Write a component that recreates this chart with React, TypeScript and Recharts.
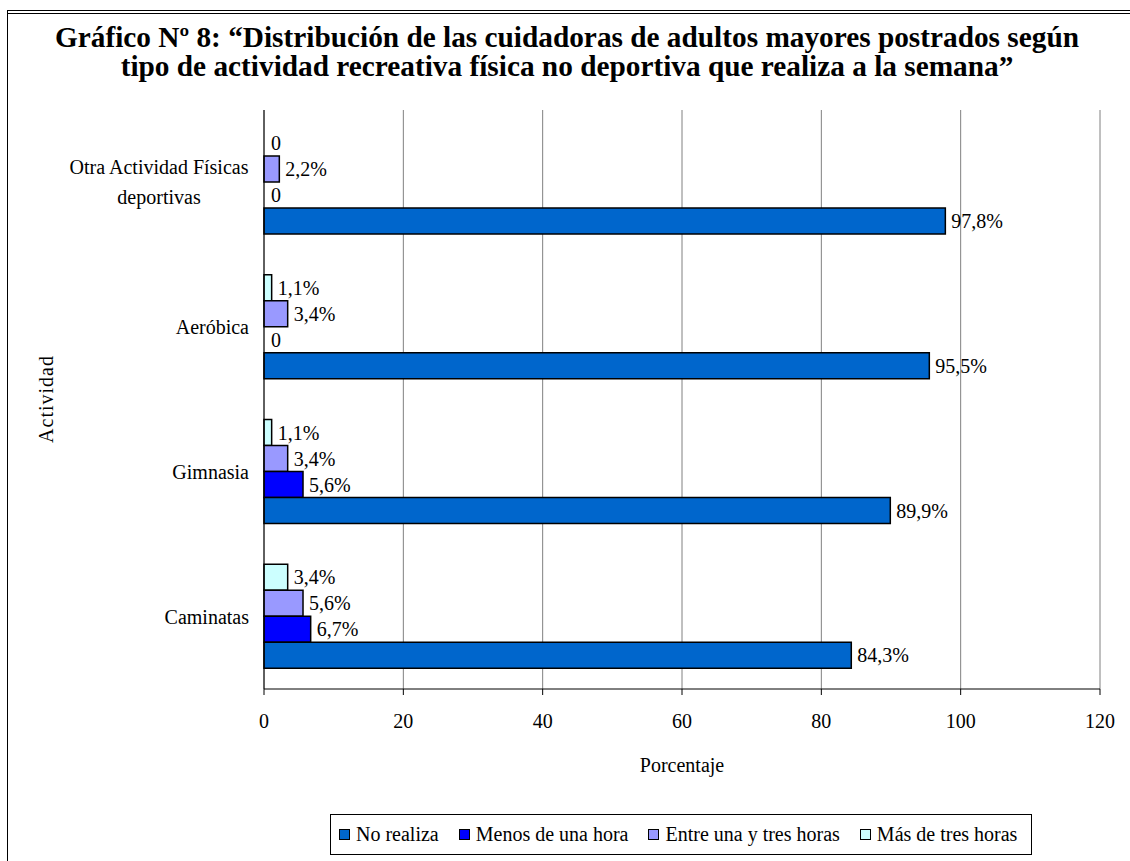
import { Bar, BarChart, CartesianGrid, LabelList, Rectangle, XAxis, YAxis } from "recharts";

const FONT = '"Liberation Serif", "Times New Roman", serif';

const categories = ["Otra Actividad Físicas\ndeportivas", "Aeróbica", "Gimnasia", "Caminatas"];
const noRealiza = [97.8, 95.5, 89.9, 84.3];
const menosDeUnaHora = [0, 0, 5.6, 6.7];
const entreUnaYTresHoras = [2.2, 3.4, 3.4, 5.6];
const masDeTresHoras = [0, 1.1, 1.1, 3.4];
const xTicks = [0, 20, 40, 60, 80, 100, 120];
const bandEdges = [0, 1, 2, 3, 4];

// drawn top to bottom inside each category
const series = [
  { key: "mas", name: "Más de tres horas", values: masDeTresHoras, color: "#CCFFFF" },
  { key: "entre", name: "Entre una y tres horas", values: entreUnaYTresHoras, color: "#9999FF" },
  { key: "menos", name: "Menos de una hora", values: menosDeUnaHora, color: "#0000FF" },
  { key: "no", name: "No realiza", values: noRealiza, color: "#0066CC" },
];
const legendOrder = ["no", "menos", "entre", "mas"];

const data = categories.map((name, i) => {
  const row: Record<string, string | number> = { name };
  series.forEach((s) => (row[s.key] = s.values[i]));
  return row;
});

const fmt = (v: any) => (Number(v) === 0 ? "0" : Number(v).toFixed(1).replace(".", ",") + "%");

let ctx: CanvasRenderingContext2D | null = null;
function textWidth(s: string) {
  if (!ctx && typeof document !== "undefined") ctx = document.createElement("canvas").getContext("2d");
  if (!ctx) return s.length * 9;
  ctx.font = `20px ${FONT}`;
  return ctx.measureText(s).width;
}

function CategoryTick({ x, y, payload }: any) {
  const lines = String(payload.value).split("\n");
  const widest = Math.max(...lines.map(textWidth));
  const cx = x - widest / 2;
  return (
    <g>
      {lines.map((line, i) => (
        <text
          key={i}
          x={cx}
          y={y + (i - (lines.length - 1) / 2) * 30}
          dy="0.35em"
          textAnchor="middle"
          fontSize={20}
          fontFamily={FONT}
          fill="#000"
        >
          {line}
        </text>
      ))}
    </g>
  );
}

// zero values keep a 1px slot so their "0" label is still drawn, but no box
const barShape = (key: string, color: string) => (p: any) =>
  p.payload?.[key] === 0 ? <g /> : (
    <Rectangle x={p.x} y={p.y} width={p.width} height={p.height} fill={color} stroke="#000" strokeWidth={1.5} />
  );

export default function App() {
  return (
    <div style={{ position: "absolute", left: 0, top: 0, width: 1130, height: 861, background: "#fff", fontFamily: FONT, color: "#000" }}>
      <div style={{ position: "absolute", left: 7, top: 10, width: 1123, height: 1, background: "#000" }} />
      <div style={{ position: "absolute", left: 7, top: 13, width: 1123, height: 1, background: "#000" }} />
      <div style={{ position: "absolute", left: 7, top: 10, width: 1, height: 851, background: "#000" }} />

      <div style={{ position: "absolute", left: 8, top: 23, width: 1118, textAlign: "center", fontWeight: "bold", fontSize: 29.3, lineHeight: "29px" }}>
        Gráfico Nº 8: “Distribución de las cuidadoras de adultos mayores postrados según
        <br />
        tipo de actividad recreativa física no deportiva que realiza a la semana”
      </div>

      <div style={{ position: "absolute", left: 0, top: 0 }}>
        <BarChart
          width={1130}
          height={861}
          data={data}
          layout="vertical"
          margin={{ top: 110, right: 30, bottom: 132, left: 64 }}
          barSize={26}
          barGap={0}
        >
          <CartesianGrid yAxisId="cat" horizontal={false} stroke="#808080" />
          <XAxis
            type="number"
            domain={[0, 120]}
            ticks={xTicks}
            height={40}
            tick={{ fontSize: 20, fill: "#000", fontFamily: FONT }}
            tickMargin={19}
            axisLine={{ stroke: "#000" }}
            tickLine={{ stroke: "#000" }}
          />
          <XAxis xAxisId="top" orientation="top" type="number" domain={[0, 120]} height={0} tick={false} tickLine={false} axisLine={{ stroke: "#808080" }} />
          <YAxis
            yAxisId="edge"
            type="number"
            domain={[0, 4]}
            ticks={bandEdges}
            width={0}
            tick={false}
            axisLine={false}
            tickLine={{ stroke: "#000" }}
          />
          <YAxis
            yAxisId="cat"
            type="category"
            dataKey="name"
            width={200}
            tickLine={false}
            axisLine={{ stroke: "#000" }}
            tick={<CategoryTick />}
            tickMargin={9}
          />
          {series.map((s) => (
            <Bar
              key={s.key}
              yAxisId="cat"
              dataKey={s.key}
              name={s.name}
              fill={s.color}
              stroke="#000"
              strokeWidth={1.5}
              minPointSize={1}
              shape={barShape(s.key, s.color)}
              isAnimationActive={false}
            >
              <LabelList dataKey={s.key} position="right" offset={6} formatter={fmt} fontSize={20} fill="#000" fontFamily={FONT} />
            </Bar>
          ))}
        </BarChart>
      </div>

      <div style={{ position: "absolute", left: 46, top: 399, transform: "translate(-50%, -50%) rotate(-90deg)", fontSize: 20, letterSpacing: 1, whiteSpace: "nowrap" }}>
        Actividad
      </div>
      <div style={{ position: "absolute", left: 682, top: 765, transform: "translate(-50%, -50%)", fontSize: 20, whiteSpace: "nowrap" }}>
        Porcentaje
      </div>

      <div style={{ position: "absolute", left: 330, top: 814, height: 41, border: "1px solid #000", boxSizing: "border-box", display: "flex", alignItems: "center", padding: "0 14px 0 8px", gap: 20, fontSize: 20, whiteSpace: "nowrap" }}>
        {legendOrder.map((k) => {
          const s = series.find((x) => x.key === k)!;
          return (
            <div key={k} style={{ display: "flex", alignItems: "center" }}>
              <span style={{ display: "inline-block", width: 9, height: 9, border: "1px solid #000", background: s.color, marginRight: 6 }} />
              <span>{s.name}</span>
            </div>
          );
        })}
      </div>
    </div>
  );
}
